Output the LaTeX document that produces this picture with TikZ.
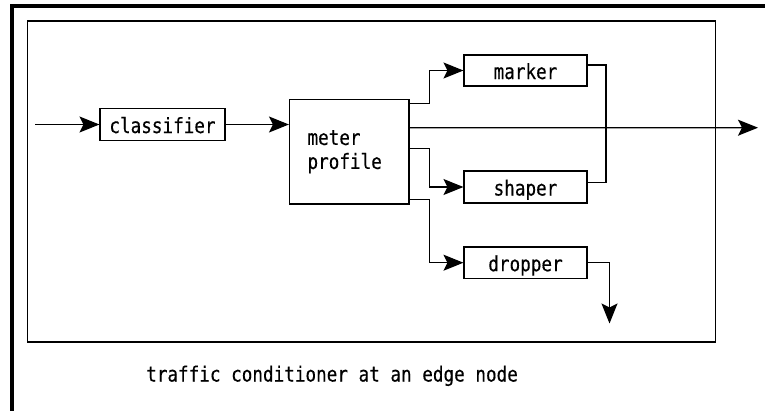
\documentclass[tikz,border=0pt]{standalone}
\usepackage{fontspec}
\usetikzlibrary{arrows.meta}
\newfontfamily\labelfont[FakeStretch=0.84,FakeBold=0.3]{DejaVu Sans Mono}
\tikzset{
  frameline/.style={line width=3.7pt},
  panel/.style={line width=1.2pt},
  lbl/.style={font={\fontsize{21}{24}\labelfont}},
  blk/.style={draw, line width=1.1pt, inner sep=0pt, lbl},
  oneline/.style={blk, text height=17pt, text depth=0pt},
  wire/.style={line width=1.1pt},
  arr/.style={wire, -{Stealth[length=20pt,width=16pt,inset=4pt]}},
}
\begin{document}
\begin{tikzpicture}[x=1pt,y=-1pt]
\useasboundingbox (0,0) rectangle (765,410);

% outer frame (top and left edges)
\draw[frameline] (12,412) -- (12,5.7) -- (767,5.7);

% traffic conditioner panel
\draw[panel] (27.5,21) rectangle (715.5,342);

% blocks
\node[oneline, minimum width=125pt, minimum height=32pt] (classifier) at (162.5,124.5) {classifier};
\node[blk, minimum width=119.5pt, minimum height=104.5pt, text width=83.5pt,
      align=left, inner xsep=18pt] (meter) at (349.25,151.75) {meter\\profile};
\node[oneline, minimum width=123pt, minimum height=31pt] (marker) at (525.5,70.5) {marker};
\node[oneline, minimum width=123pt, minimum height=32pt] (shaper) at (525.5,187) {shaper};
\node[oneline, minimum width=123pt, minimum height=31.5pt] (dropper) at (525.5,262.7) {dropper};

% free ends
\coordinate (in) at (35,124.5);
\coordinate (out) at (758,127.7);
\coordinate (join) at (606,182.5);
\coordinate (drop) at (609.5,323.5);

% connectors
\draw[arr] (in) -- (classifier.west);
\draw[arr] (classifier.east) -- (classifier.east -| meter.west);
\draw[arr] ([yshift=-4.5pt]meter.north east) -- ++(20,0) |- (marker.west);
\draw[arr] ([yshift=24pt]meter.east) -- (out);
\draw[arr] ([yshift=3.5pt]meter.east) -- ++(20,0) |- (shaper.west);
\draw[arr] ([yshift=5pt]meter.south east) -- ++(20,0) |- (dropper.west);
\draw[wire] ([yshift=5.5pt]marker.east) -| (join);
\draw[wire] ([yshift=4.5pt]shaper.east) -- (join);
\draw[arr] (dropper.east) -| (drop);

% caption
\node[anchor=base west, inner sep=0pt, lbl] (caption)
  at (146,381.5) {traffic conditioner at an edge node};
\end{tikzpicture}
\end{document}
